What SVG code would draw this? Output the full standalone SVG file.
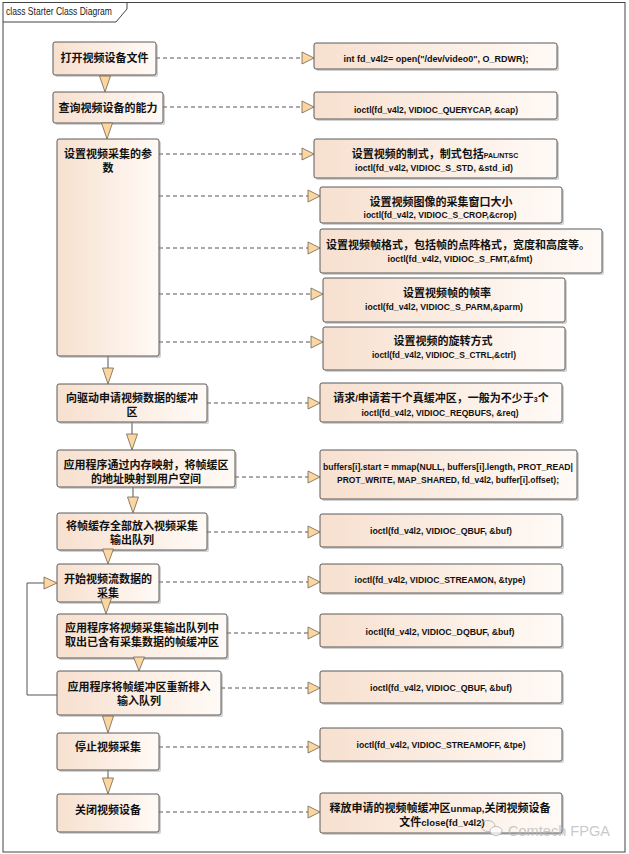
<svg xmlns="http://www.w3.org/2000/svg" width="629" height="854" viewBox="0 0 629 854">
<defs>
<linearGradient id="g" x1="0" y1="0" x2="1" y2="0">
<stop offset="0" stop-color="#f7e0cf"/>
<stop offset="1" stop-color="#fffaf6"/>
</linearGradient>
<style>
.box{fill:url(#g);stroke:#5a5a5a;stroke-width:1}
.sh{fill:#9a9a9a;opacity:.45}
.cn{font-family:"Noto Sans CJK SC","Noto Sans",sans-serif;font-size:11px;font-weight:bold;fill:#111;text-anchor:middle}
.en{font-family:"Liberation Sans",Arial,sans-serif;font-size:9.5px;font-weight:bold;fill:#111;text-anchor:middle}
.sm{font-family:"Liberation Sans",Arial,sans-serif;font-size:7px;font-weight:bold}
.mx{font-family:"Liberation Sans",Arial,sans-serif;font-size:9.5px;font-weight:bold}
.dash{fill:none;stroke:#555;stroke-width:1;stroke-dasharray:4 3}
.line{fill:none;stroke:#555;stroke-width:1}
.tri{fill:#fcd6a0;stroke:#6e6250;stroke-width:.8}
</style>
</defs>
<rect width="629" height="854" fill="#ffffff"/>
<g id="frame">
<rect x="3" y="2.5" width="622" height="849.5" fill="none" stroke="#444" stroke-width="1"/>
<path d="M3,22 H116 L127,9 V2.5" fill="none" stroke="#444" stroke-width="1"/>
<text x="6" y="15" font-family="Liberation Sans,Arial,sans-serif" font-size="10.5" fill="#222" textLength="106" lengthAdjust="spacingAndGlyphs">class Starter Class Diagram</text>
</g>
<g id="connectors">
<path class="dash" d="M156,58H302 M163,107H302 M159,154H302 M159,196H308 M159,248H308 M159,294H311 M159,342H311 M207,403H308 M235,477H308 M207,532H308 M159,582H308 M227,633H308 M221,688H308 M159,747H308 M159,812H308"/>
<g class="tri">
<polygon points="302,52 314,58 302,64"/>
<polygon points="302,101 314,107 302,113"/>
<polygon points="302,148 314,154 302,160"/>
<polygon points="308,190 320,196 308,202"/>
<polygon points="308,242 320,248 308,254"/>
<polygon points="311,288 323,294 311,300"/>
<polygon points="311,336 323,342 311,348"/>
<polygon points="308,397 320,403 308,409"/>
<polygon points="308,471 320,477 308,483"/>
<polygon points="308,526 320,532 308,538"/>
<polygon points="308,576 320,582 308,588"/>
<polygon points="308,627 320,633 308,639"/>
<polygon points="308,682 320,688 308,694"/>
<polygon points="308,741 320,747 308,753"/>
<polygon points="308,806 320,812 308,818"/>
</g>
<path class="line" d="M108,356V368 M132,422V434 M133,487V497 M108,770V778 M57,695H27V583H44"/>
</g>
<g id="n1"><rect class="sh" x="55" y="44" width="103" height="33" rx="2"/><rect class="box" x="53" y="42" width="103" height="33" rx="2"/><text class="cn" x="104.5" y="62">打开视频设备文件</text></g>
<g id="n2"><rect class="sh" x="55" y="94" width="110" height="31" rx="2"/><rect class="box" x="53" y="92" width="110" height="31" rx="2"/><text class="cn" x="108" y="112">查询视频设备的能力</text></g>
<g id="n3"><rect class="sh" x="59" y="141" width="102" height="217" rx="2"/><rect class="box" x="57" y="139" width="102" height="217" rx="2"/><text class="cn" x="108" y="158">设置视频采集的参</text><text class="cn" x="108" y="171.5">数</text></g>
<g id="n4"><rect class="sh" x="59" y="386" width="150" height="38" rx="2"/><rect class="box" x="57" y="384" width="150" height="38" rx="2"/><text class="cn" x="132" y="402">向驱动申请视频数据的缓冲</text><text class="cn" x="132" y="416">区</text></g>
<g id="n5"><rect class="sh" x="59" y="452" width="178" height="37" rx="2"/><rect class="box" x="57" y="450" width="178" height="37" rx="2"/><text class="cn" x="146" y="469">应用程序通过内存映射，将帧缓区</text><text class="cn" x="146" y="482.5">的地址映射到用户空间</text></g>
<g id="n6"><rect class="sh" x="59" y="515" width="150" height="37" rx="2"/><rect class="box" x="57" y="513" width="150" height="37" rx="2"/><text class="cn" x="132" y="530">将帧缓存全部放入视频采集</text><text class="cn" x="132" y="544">输出队列</text></g>
<g id="n7"><rect class="sh" x="59" y="566" width="102" height="38" rx="2"/><rect class="box" x="57" y="564" width="102" height="38" rx="2"/><text class="cn" x="108" y="583">开始视频流数据的</text><text class="cn" x="108" y="596.5">采集</text></g>
<g id="n8"><rect class="sh" x="59" y="616" width="170" height="44" rx="2"/><rect class="box" x="57" y="614" width="170" height="44" rx="2"/><text class="cn" x="142" y="631.5">应用程序将视频采集输出队列中</text><text class="cn" x="142" y="646">取出已含有采集数据的帧缓冲区</text></g>
<g id="n9"><rect class="sh" x="59" y="673" width="164" height="44" rx="2"/><rect class="box" x="57" y="671" width="164" height="44" rx="2"/><text class="cn" x="139" y="691">应用程序将帧缓冲区重新排入</text><text class="cn" x="139" y="704.5">输入队列</text></g>
<g id="n10"><rect class="sh" x="59" y="735" width="102" height="37" rx="2"/><rect class="box" x="57" y="733" width="102" height="37" rx="2"/><text class="cn" x="108" y="751">停止视频采集</text></g>
<g id="n11"><rect class="sh" x="59" y="796" width="102" height="38" rx="2"/><rect class="box" x="57" y="794" width="102" height="38" rx="2"/><text class="cn" x="108" y="814">关闭视频设备</text></g>
<g id="r1"><rect class="sh" x="316" y="45" width="243" height="26" rx="2"/><rect class="box" x="314" y="43" width="243" height="26" rx="2"/><text class="en" x="436" y="61.5" textLength="185" lengthAdjust="spacingAndGlyphs">int fd_v4l2= open("/dev/video0", O_RDWR);</text></g>
<g id="r2"><rect class="sh" x="316" y="94" width="243" height="27" rx="2"/><rect class="box" x="314" y="92" width="243" height="27" rx="2"/><text class="en" x="436" y="112.5" textLength="164" lengthAdjust="spacingAndGlyphs">ioctl(fd_v4l2, VIDIOC_QUERYCAP, &amp;cap)</text></g>
<g id="r3"><rect class="sh" x="316" y="141" width="243" height="39" rx="2"/><rect class="box" x="314" y="139" width="243" height="39" rx="2"/><text class="cn" x="435" y="158">设置视频的制式，制式包括<tspan class="sm">PAL/NTSC</tspan></text><text class="en" x="434" y="171" textLength="158" lengthAdjust="spacingAndGlyphs">ioctl(fd_v4l2, VIDIOC_S_STD, &amp;std_id)</text></g>
<g id="r4"><rect class="sh" x="322" y="189" width="242" height="36" rx="2"/><rect class="box" x="320" y="187" width="242" height="36" rx="2"/><text class="cn" x="441" y="206">设置视频图像的采集窗口大小</text><text class="en" x="440" y="218" textLength="153" lengthAdjust="spacingAndGlyphs">ioctl(fd_v4l2, VIDIOC_S_CROP,&amp;crop)</text></g>
<g id="r5"><rect class="sh" x="322" y="231" width="282" height="44" rx="2"/><rect class="box" x="320" y="229" width="282" height="44" rx="2"/><text class="cn" x="458" y="248.5">设置视频帧格式，包括帧的点阵格式，宽度和高度等。</text><text class="en" x="460" y="261.5" textLength="145" lengthAdjust="spacingAndGlyphs">ioctl(fd_v4l2, VIDIOC_S_FMT,&amp;fmt)</text></g>
<g id="r6"><rect class="sh" x="325" y="280" width="242" height="44" rx="2"/><rect class="box" x="323" y="278" width="242" height="44" rx="2"/><text class="cn" x="447" y="296.5">设置视频帧的帧率</text><text class="en" x="444" y="309.5" textLength="158" lengthAdjust="spacingAndGlyphs">ioctl(fd_v4l2, VIDIOC_S_PARM,&amp;parm)</text></g>
<g id="r7"><rect class="sh" x="325" y="329" width="242" height="43" rx="2"/><rect class="box" x="323" y="327" width="242" height="43" rx="2"/><text class="cn" x="443" y="344.5">设置视频的旋转方式</text><text class="en" x="444" y="357.5" textLength="144" lengthAdjust="spacingAndGlyphs">ioctl(fd_v4l2, VIDIOC_S_CTRL,&amp;ctrl)</text></g>
<g id="r8"><rect class="sh" x="322" y="385" width="242" height="39" rx="2"/><rect class="box" x="320" y="383" width="242" height="39" rx="2"/><text class="cn" x="441" y="401.5">请求<tspan class="mx">/</tspan>申请若干个真缓冲区，一般为不少于<tspan class="sm">3</tspan>个</text><text class="en" x="440" y="415.5" textLength="157" lengthAdjust="spacingAndGlyphs">ioctl(fd_v4l2, VIDIOC_REQBUFS, &amp;req)</text></g>
<g id="r9"><rect class="sh" x="322" y="452" width="257" height="49" rx="2"/><rect class="box" x="320" y="450" width="257" height="49" rx="2"/><text class="en" x="448" y="469.5" textLength="250" lengthAdjust="spacingAndGlyphs">buffers[i].start = mmap(NULL, buffers[i].length, PROT_READ|</text><text class="en" x="448" y="482.5" textLength="222" lengthAdjust="spacingAndGlyphs">PROT_WRITE, MAP_SHARED, fd_v4l2, buffer[i].offset);</text></g>
<g id="r10"><rect class="sh" x="322" y="516" width="242" height="33" rx="2"/><rect class="box" x="320" y="514" width="242" height="33" rx="2"/><text class="en" x="441" y="533.5" textLength="142" lengthAdjust="spacingAndGlyphs">ioctl(fd_v4l2, VIDIOC_QBUF, &amp;buf)</text></g>
<g id="r11"><rect class="sh" x="322" y="566" width="242" height="29" rx="2"/><rect class="box" x="320" y="564" width="242" height="29" rx="2"/><text class="en" x="440" y="582.5" textLength="171" lengthAdjust="spacingAndGlyphs">ioctl(fd_v4l2, VIDIOC_STREAMON, &amp;type)</text></g>
<g id="r12"><rect class="sh" x="322" y="616" width="242" height="33" rx="2"/><rect class="box" x="320" y="614" width="242" height="33" rx="2"/><text class="en" x="440" y="634.5" textLength="149" lengthAdjust="spacingAndGlyphs">ioctl(fd_v4l2, VIDIOC_DQBUF, &amp;buf)</text></g>
<g id="r13"><rect class="sh" x="322" y="673" width="242" height="32" rx="2"/><rect class="box" x="320" y="671" width="242" height="32" rx="2"/><text class="en" x="441" y="690.5" textLength="142" lengthAdjust="spacingAndGlyphs">ioctl(fd_v4l2, VIDIOC_QBUF, &amp;buf)</text></g>
<g id="r14"><rect class="sh" x="322" y="730" width="242" height="33" rx="2"/><rect class="box" x="320" y="728" width="242" height="33" rx="2"/><text class="en" x="441" y="747.5" textLength="169" lengthAdjust="spacingAndGlyphs">ioctl(fd_v4l2, VIDIOC_STREAMOFF, &amp;tpe)</text></g>
<g id="r15"><rect class="sh" x="322" y="795" width="242" height="40" rx="2"/><rect class="box" x="320" y="793" width="242" height="40" rx="2"/><text class="cn" x="440" y="811.5">释放申请的视频帧缓冲区<tspan class="mx">unmap,</tspan>关闭视频设备</text><text class="cn" x="442" y="826">文件<tspan class="mx">close(fd_v4l2)</tspan></text></g>
<g id="arrows" class="tri">
<polygon points="99.5,76 110.5,76 105,92"/>
<polygon points="101.5,123 112.5,123 107,139"/>
<polygon points="102.5,368 113.5,368 108,384"/>
<polygon points="126.5,434 137.5,434 132,450"/>
<polygon points="127.5,497 138.5,497 133,513"/>
<polygon points="102.5,549 113.5,549 108,564"/>
<polygon points="100.5,598 111.5,598 106,614"/>
<polygon points="133.5,657 144.5,657 139,671"/>
<polygon points="102.5,716 113.5,716 108,733"/>
<polygon points="102.5,778 113.5,778 108,794"/>
<polygon points="44,577 57,583 44,589"/>
</g>
<g id="watermark" opacity="0.75">
<ellipse cx="488" cy="826" rx="7" ry="5.5" fill="none" stroke="#aaa" stroke-width="1"/>
<ellipse cx="496" cy="831" rx="6" ry="4.5" fill="#fff" stroke="#aaa" stroke-width="1"/>
<text x="508" y="836" font-family="Liberation Sans,Arial,sans-serif" font-size="15" fill="#b8b8b8" textLength="102" lengthAdjust="spacingAndGlyphs">Comtech FPGA</text>
</g>
</svg>
